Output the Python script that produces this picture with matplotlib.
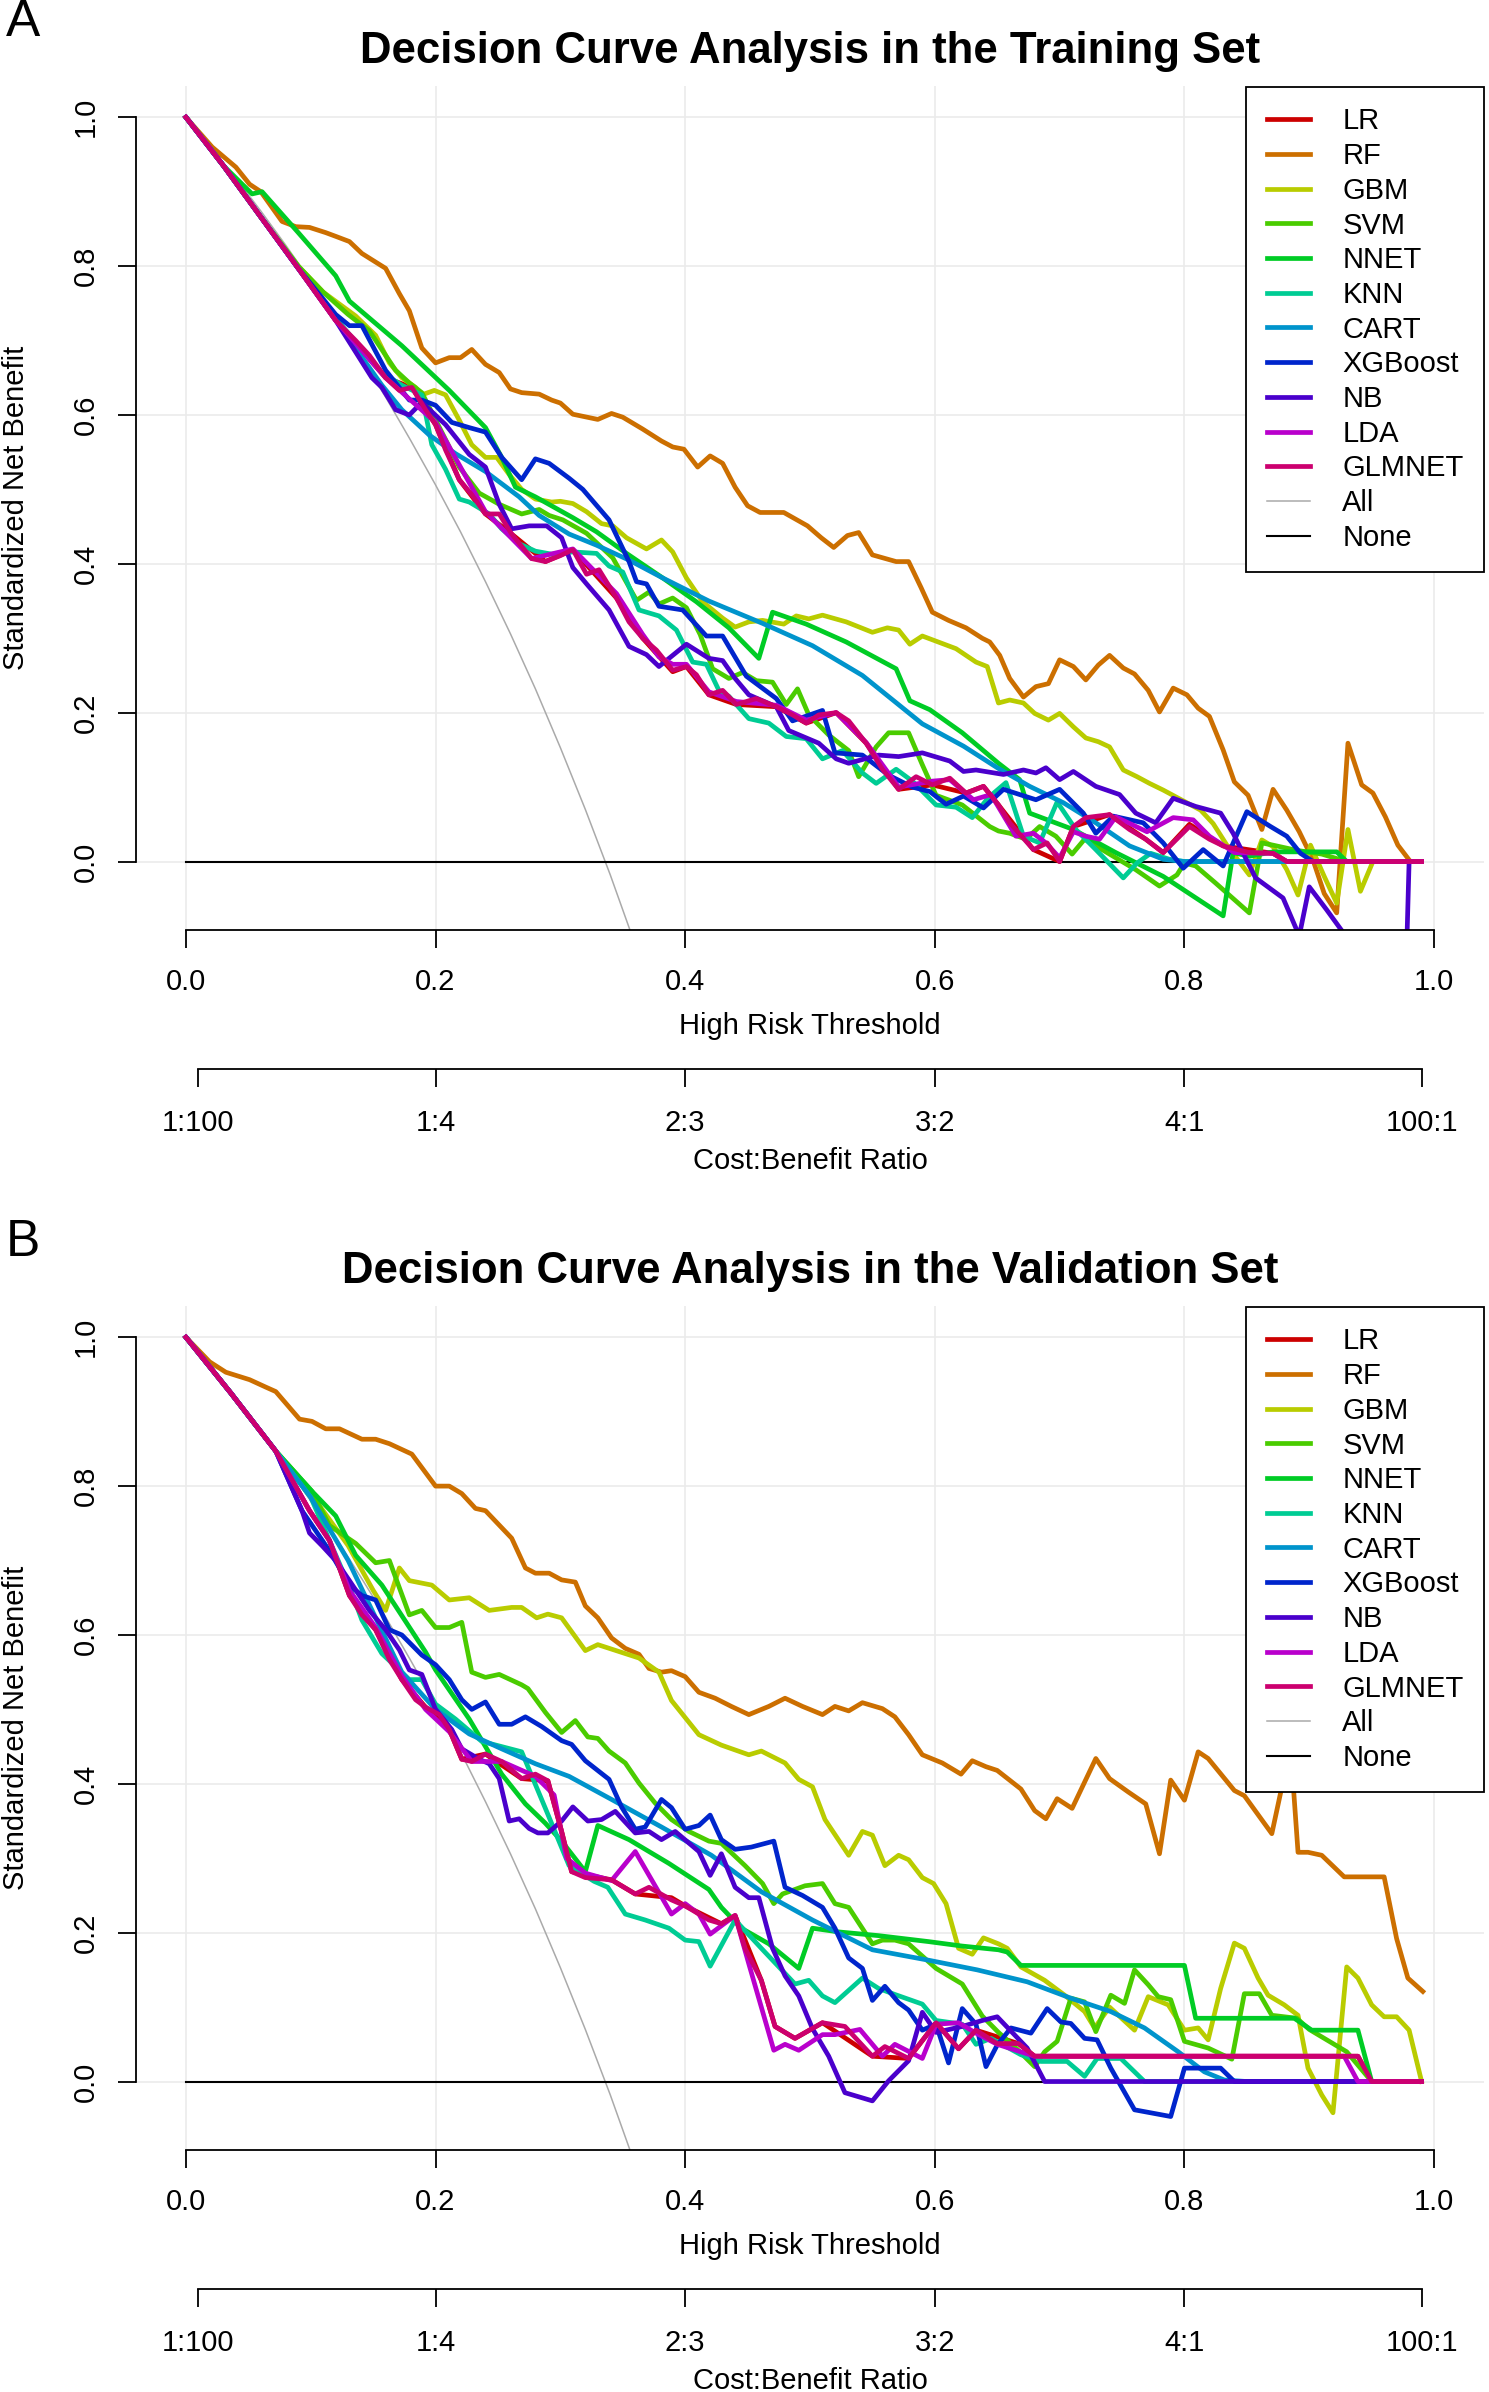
import matplotlib
matplotlib.use('Agg')
import matplotlib.pyplot as plt
import colorsys

plt.rcParams['font.family'] = ['Liberation Sans', 'DejaVu Sans']

models = ['LR', 'RF', 'GBM', 'SVM', 'NNET', 'KNN', 'CART', 'XGBoost', 'NB', 'LDA', 'GLMNET']

# treat-all / treat-none reference curves
all_x = [0.0, 0.02, 0.04, 0.06, 0.08, 0.10, 0.12, 0.14, 0.16, 0.18, 0.20, 0.22, 0.24, 0.26, 0.28,
         0.30, 0.32, 0.34, 0.36]
all_y = [1.0, 0.960, 0.918, 0.874, 0.828, 0.780, 0.731, 0.678, 0.624, 0.566, 0.506, 0.443, 0.376,
         0.306, 0.232, 0.153, 0.070, -0.018, -0.112]
none_x = [0.0, 0.99]
none_y = [0.0, 0.0]

# ---- training set, (threshold, standardized net benefit) ----
tr_lr = [(0, 1), (0.03, 0.935), (0.06, 0.866), (0.09, 0.797), (0.12, 0.727), (0.16, 0.65), (0.181, 0.637),
         (0.2, 0.587), (0.219, 0.513), (0.24, 0.467), (0.261, 0.44), (0.288, 0.403), (0.31, 0.419),
         (0.345, 0.354), (0.366, 0.3), (0.39, 0.255), (0.401, 0.262), (0.419, 0.224), (0.441, 0.211),
         (0.473, 0.208), (0.497, 0.186), (0.521, 0.2), (0.545, 0.159), (0.571, 0.097), (0.598, 0.103),
         (0.625, 0.092), (0.639, 0.101), (0.651, 0.076), (0.679, 0.016), (0.7, 0.0), (0.711, 0.047),
         (0.74, 0.063), (0.769, 0.03), (0.783, 0.012), (0.804, 0.05), (0.831, 0.021), (0.871, 0.011),
         (0.882, 0.0), (0.99, 0.0)]
tr_rf = [(0, 1), (0.021, 0.96), (0.04, 0.933), (0.051, 0.91), (0.06, 0.9), (0.077, 0.86), (0.088, 0.853),
         (0.099, 0.852), (0.112, 0.845), (0.12, 0.84), (0.131, 0.833), (0.141, 0.817), (0.16, 0.797),
         (0.171, 0.763), (0.179, 0.74), (0.189, 0.69), (0.2, 0.67), (0.211, 0.677), (0.22, 0.677),
         (0.229, 0.688), (0.24, 0.668), (0.251, 0.657), (0.26, 0.635), (0.269, 0.63), (0.283, 0.628),
         (0.293, 0.62), (0.3, 0.616), (0.31, 0.601), (0.33, 0.594), (0.341, 0.602), (0.35, 0.597),
         (0.366, 0.581), (0.381, 0.565), (0.39, 0.557), (0.399, 0.554), (0.41, 0.53), (0.42, 0.545),
         (0.43, 0.535), (0.44, 0.503), (0.45, 0.478), (0.46, 0.469), (0.479, 0.469), (0.498, 0.451),
         (0.509, 0.435), (0.519, 0.422), (0.53, 0.438), (0.539, 0.442), (0.55, 0.412), (0.569, 0.403),
         (0.579, 0.403), (0.589, 0.368), (0.598, 0.335), (0.611, 0.324), (0.625, 0.314), (0.638, 0.3),
         (0.644, 0.295), (0.652, 0.277), (0.66, 0.246), (0.671, 0.221), (0.681, 0.235), (0.691, 0.239),
         (0.7, 0.271), (0.711, 0.262), (0.721, 0.244), (0.731, 0.264), (0.74, 0.277), (0.751, 0.26),
         (0.76, 0.252), (0.771, 0.23), (0.78, 0.201), (0.791, 0.233), (0.802, 0.224), (0.811, 0.206),
         (0.82, 0.195), (0.831, 0.15), (0.84, 0.107), (0.851, 0.089), (0.862, 0.043), (0.871, 0.097),
         (0.882, 0.069), (0.892, 0.04), (0.903, 0.002), (0.912, -0.043), (0.922, -0.069), (0.931, 0.159),
         (0.942, 0.103), (0.951, 0.092), (0.961, 0.06), (0.971, 0.022), (0.981, 0.0), (0.99, 0.0)]
tr_gbm = [(0, 1), (0.03, 0.935), (0.06, 0.866), (0.09, 0.8), (0.11, 0.765), (0.136, 0.733), (0.152, 0.707),
          (0.163, 0.67), (0.173, 0.65), (0.184, 0.637), (0.189, 0.627), (0.199, 0.633), (0.208, 0.627),
          (0.219, 0.593), (0.229, 0.56), (0.24, 0.543), (0.249, 0.543), (0.259, 0.52), (0.269, 0.5),
          (0.28, 0.487), (0.293, 0.483), (0.3, 0.484), (0.31, 0.481), (0.321, 0.47), (0.333, 0.454),
          (0.342, 0.451), (0.353, 0.435), (0.369, 0.42), (0.381, 0.432), (0.39, 0.416), (0.401, 0.381),
          (0.414, 0.349), (0.43, 0.327), (0.44, 0.315), (0.451, 0.322), (0.462, 0.324), (0.479, 0.319),
          (0.489, 0.33), (0.499, 0.326), (0.51, 0.331), (0.529, 0.322), (0.55, 0.308), (0.562, 0.314),
          (0.571, 0.311), (0.58, 0.292), (0.59, 0.303), (0.617, 0.286), (0.633, 0.268), (0.642, 0.262),
          (0.651, 0.213), (0.66, 0.217), (0.671, 0.213), (0.68, 0.199), (0.691, 0.19), (0.7, 0.199),
          (0.711, 0.181), (0.721, 0.166), (0.731, 0.161), (0.74, 0.154), (0.751, 0.123), (0.762, 0.114),
          (0.772, 0.105), (0.783, 0.096), (0.793, 0.087), (0.803, 0.078), (0.813, 0.069), (0.823, 0.051),
          (0.834, 0.022), (0.842, 0.004), (0.852, -0.018), (0.862, 0.029), (0.871, 0.02), (0.882, -0.011),
          (0.891, -0.045), (0.901, 0.022), (0.912, -0.02), (0.922, -0.056), (0.931, 0.043), (0.941, -0.04),
          (0.951, 0.0), (0.99, 0.0)]
tr_svm = [(0, 1), (0.03, 0.935), (0.06, 0.866), (0.09, 0.8), (0.11, 0.765), (0.13, 0.735), (0.147, 0.713),
          (0.168, 0.66), (0.179, 0.643), (0.189, 0.63), (0.208, 0.567), (0.219, 0.53), (0.235, 0.495),
          (0.251, 0.48), (0.269, 0.467), (0.283, 0.473), (0.291, 0.465), (0.302, 0.459), (0.321, 0.441),
          (0.342, 0.408), (0.361, 0.351), (0.371, 0.362), (0.379, 0.346), (0.39, 0.354), (0.401, 0.341),
          (0.412, 0.305), (0.422, 0.259), (0.435, 0.246), (0.446, 0.254), (0.457, 0.243), (0.47, 0.241),
          (0.481, 0.211), (0.49, 0.232), (0.499, 0.197), (0.515, 0.17), (0.531, 0.149), (0.539, 0.114),
          (0.553, 0.154), (0.563, 0.173), (0.579, 0.173), (0.59, 0.13), (0.601, 0.089), (0.622, 0.076),
          (0.644, 0.047), (0.651, 0.041), (0.66, 0.038), (0.673, 0.03), (0.684, 0.047), (0.697, 0.034),
          (0.71, 0.01), (0.72, 0.03), (0.73, 0.02), (0.74, 0.01), (0.761, -0.011), (0.78, -0.033),
          (0.794, -0.018), (0.8, -0.002), (0.809, -0.006), (0.825, -0.029), (0.852, -0.069), (0.862, 0.025),
          (0.871, 0.022), (0.89, 0.015), (0.91, 0.01), (0.93, 0.0), (0.99, 0.0)]
tr_nnet = [(0, 1), (0.03, 0.935), (0.053, 0.897), (0.061, 0.9), (0.09, 0.845), (0.12, 0.787), (0.131, 0.753),
           (0.173, 0.693), (0.211, 0.633), (0.24, 0.583), (0.253, 0.543), (0.264, 0.503), (0.28, 0.49),
           (0.31, 0.462), (0.329, 0.443), (0.353, 0.414), (0.382, 0.381), (0.409, 0.349), (0.435, 0.314),
           (0.459, 0.273), (0.47, 0.335), (0.497, 0.319), (0.529, 0.295), (0.569, 0.259), (0.58, 0.216),
           (0.596, 0.204), (0.622, 0.173), (0.651, 0.132), (0.668, 0.11), (0.676, 0.065), (0.711, 0.043),
           (0.745, 0.012), (0.783, -0.02), (0.831, -0.073), (0.839, 0.012), (0.852, 0.007), (0.871, 0.013),
           (0.922, 0.013), (0.93, 0.0), (0.99, 0.0)]
tr_knn = [(0, 1), (0.03, 0.935), (0.06, 0.866), (0.09, 0.797), (0.12, 0.73), (0.14, 0.69), (0.157, 0.657),
          (0.173, 0.64), (0.189, 0.627), (0.197, 0.56), (0.208, 0.527), (0.219, 0.487), (0.227, 0.483),
          (0.243, 0.467), (0.253, 0.447), (0.267, 0.427), (0.28, 0.417), (0.293, 0.413), (0.31, 0.416),
          (0.329, 0.414), (0.339, 0.397), (0.35, 0.389), (0.363, 0.338), (0.379, 0.33), (0.393, 0.311),
          (0.406, 0.268), (0.417, 0.265), (0.427, 0.23), (0.435, 0.222), (0.451, 0.192), (0.467, 0.186),
          (0.481, 0.168), (0.497, 0.165), (0.51, 0.138), (0.526, 0.149), (0.542, 0.119), (0.553, 0.105),
          (0.569, 0.124), (0.582, 0.108), (0.601, 0.076), (0.617, 0.073), (0.63, 0.059), (0.643, 0.086),
          (0.657, 0.106), (0.671, 0.034), (0.684, 0.025), (0.698, 0.08), (0.713, 0.043), (0.729, 0.016),
          (0.751, -0.022), (0.762, -0.002), (0.773, 0.011), (0.788, 0.003), (0.8, 0.0), (0.99, 0.0)]
tr_cart = [(0, 1), (0.03, 0.935), (0.06, 0.866), (0.09, 0.797), (0.12, 0.728), (0.14, 0.68), (0.157, 0.64),
           (0.173, 0.607), (0.195, 0.573), (0.216, 0.548), (0.24, 0.524), (0.267, 0.49), (0.283, 0.465),
           (0.307, 0.44), (0.329, 0.425), (0.355, 0.405), (0.382, 0.381), (0.419, 0.35), (0.462, 0.32),
           (0.502, 0.29), (0.542, 0.25), (0.59, 0.185), (0.623, 0.155), (0.651, 0.125), (0.676, 0.101),
           (0.703, 0.079), (0.729, 0.052), (0.756, 0.021), (0.783, 0.003), (0.8, 0.0), (0.99, 0.0)]
tr_xgb = [(0, 1), (0.03, 0.935), (0.06, 0.866), (0.09, 0.797), (0.12, 0.735), (0.131, 0.72), (0.141, 0.72),
          (0.16, 0.66), (0.179, 0.62), (0.189, 0.62), (0.2, 0.613), (0.213, 0.59), (0.227, 0.583),
          (0.24, 0.577), (0.253, 0.543), (0.269, 0.513), (0.28, 0.541), (0.291, 0.535), (0.307, 0.515),
          (0.318, 0.5), (0.339, 0.459), (0.355, 0.403), (0.361, 0.376), (0.369, 0.373), (0.379, 0.343),
          (0.398, 0.338), (0.417, 0.303), (0.43, 0.303), (0.449, 0.249), (0.473, 0.219), (0.486, 0.189),
          (0.51, 0.203), (0.52, 0.146), (0.542, 0.143), (0.563, 0.116), (0.582, 0.1), (0.596, 0.094),
          (0.609, 0.077), (0.623, 0.088), (0.639, 0.072), (0.655, 0.097), (0.681, 0.083), (0.7, 0.097),
          (0.719, 0.065), (0.729, 0.038), (0.743, 0.061), (0.767, 0.052), (0.783, 0.025), (0.799, -0.009),
          (0.815, 0.016), (0.831, -0.006), (0.85, 0.067), (0.869, 0.047), (0.882, 0.034), (0.893, 0.011),
          (0.903, 0.0), (0.99, 0.0)]
tr_nb = [(0, 1), (0.03, 0.935), (0.06, 0.866), (0.09, 0.797), (0.12, 0.727), (0.149, 0.65), (0.157, 0.637),
         (0.168, 0.607), (0.179, 0.6), (0.189, 0.617), (0.208, 0.587), (0.227, 0.547), (0.24, 0.53),
         (0.251, 0.48), (0.261, 0.447), (0.275, 0.451), (0.289, 0.451), (0.301, 0.435), (0.31, 0.395),
         (0.321, 0.373), (0.339, 0.338), (0.355, 0.289), (0.369, 0.278), (0.379, 0.262), (0.401, 0.292),
         (0.419, 0.273), (0.43, 0.27), (0.44, 0.246), (0.451, 0.224), (0.473, 0.208), (0.483, 0.176),
         (0.507, 0.159), (0.521, 0.138), (0.531, 0.132), (0.555, 0.143), (0.571, 0.141), (0.59, 0.146),
         (0.612, 0.135), (0.623, 0.121), (0.633, 0.123), (0.655, 0.117), (0.671, 0.123), (0.681, 0.119),
         (0.689, 0.126), (0.7, 0.11), (0.711, 0.121), (0.729, 0.101), (0.748, 0.09), (0.761, 0.065),
         (0.777, 0.052), (0.791, 0.085), (0.809, 0.074), (0.829, 0.065), (0.839, 0.038), (0.857, -0.022),
         (0.879, -0.049), (0.892, -0.1), (0.9, -0.034), (0.914, -0.065), (0.927, -0.095), (0.94, -0.2),
         (0.97, -0.6), (0.98, 0.0), (0.99, 0.0)]
tr_lda = [(0, 1), (0.03, 0.935), (0.06, 0.866), (0.09, 0.797), (0.12, 0.727), (0.16, 0.65), (0.2, 0.59),
          (0.24, 0.47), (0.277, 0.407), (0.31, 0.42), (0.345, 0.36), (0.366, 0.305), (0.379, 0.275),
          (0.39, 0.265), (0.401, 0.265), (0.419, 0.228), (0.441, 0.215), (0.473, 0.21), (0.497, 0.19),
          (0.521, 0.2), (0.545, 0.16), (0.571, 0.1), (0.598, 0.108), (0.612, 0.11), (0.631, 0.083),
          (0.645, 0.09), (0.665, 0.034), (0.679, 0.038), (0.689, 0.025), (0.7, 0.005), (0.711, 0.04),
          (0.721, 0.034), (0.732, 0.03), (0.745, 0.06), (0.77, 0.04), (0.791, 0.059), (0.807, 0.056),
          (0.82, 0.034), (0.84, 0.012), (0.871, 0.011), (0.882, 0.0), (0.99, 0.0)]
tr_glm = [(0, 1), (0.03, 0.935), (0.06, 0.866), (0.09, 0.797), (0.12, 0.727), (0.136, 0.7), (0.147, 0.68),
          (0.16, 0.65), (0.171, 0.633), (0.181, 0.637), (0.192, 0.607), (0.2, 0.587), (0.208, 0.553),
          (0.219, 0.513), (0.229, 0.493), (0.24, 0.467), (0.251, 0.467), (0.261, 0.44), (0.277, 0.407),
          (0.288, 0.403), (0.3, 0.411), (0.31, 0.419), (0.321, 0.386), (0.331, 0.392), (0.345, 0.354),
          (0.355, 0.322), (0.366, 0.3), (0.377, 0.284), (0.39, 0.257), (0.401, 0.262), (0.409, 0.251),
          (0.419, 0.224), (0.43, 0.23), (0.441, 0.211), (0.457, 0.219), (0.473, 0.208), (0.486, 0.197),
          (0.497, 0.186), (0.507, 0.197), (0.521, 0.2), (0.531, 0.189), (0.545, 0.159), (0.558, 0.124),
          (0.571, 0.097), (0.585, 0.114), (0.598, 0.103), (0.612, 0.112), (0.625, 0.092), (0.639, 0.101),
          (0.651, 0.076), (0.66, 0.052), (0.679, 0.016), (0.69, 0.025), (0.7, 0.0), (0.711, 0.047),
          (0.721, 0.059), (0.74, 0.063), (0.756, 0.043), (0.769, 0.03), (0.783, 0.012), (0.804, 0.047),
          (0.82, 0.03), (0.831, 0.021), (0.852, 0.012), (0.871, 0.011), (0.882, 0.0), (0.99, 0.0)]

# ---- validation set ----
va_lr = [(0, 1), (0.036, 0.925), (0.072, 0.847), (0.099, 0.767), (0.115, 0.727), (0.131, 0.653),
         (0.152, 0.607), (0.173, 0.54), (0.192, 0.503), (0.211, 0.473), (0.221, 0.433), (0.24, 0.44),
         (0.269, 0.407), (0.29, 0.404), (0.301, 0.336), (0.309, 0.282), (0.341, 0.271), (0.36, 0.252),
         (0.389, 0.247), (0.4, 0.236), (0.429, 0.212), (0.44, 0.223), (0.461, 0.136), (0.472, 0.074),
         (0.488, 0.058), (0.51, 0.079), (0.55, 0.034), (0.579, 0.031), (0.601, 0.079), (0.619, 0.044),
         (0.633, 0.069), (0.667, 0.051), (0.68, 0.034), (0.939, 0.034), (0.95, 0.0), (0.99, 0.0)]
va_rf = [(0, 1), (0.019, 0.967), (0.032, 0.953), (0.051, 0.943), (0.064, 0.933), (0.072, 0.927),
         (0.091, 0.89), (0.101, 0.887), (0.112, 0.877), (0.123, 0.877), (0.141, 0.863), (0.152, 0.863),
         (0.163, 0.857), (0.181, 0.843), (0.2, 0.8), (0.211, 0.8), (0.221, 0.79), (0.232, 0.77),
         (0.24, 0.767), (0.261, 0.73), (0.272, 0.69), (0.28, 0.683), (0.291, 0.683), (0.301, 0.674),
         (0.312, 0.671), (0.32, 0.639), (0.33, 0.623), (0.341, 0.596), (0.352, 0.582), (0.363, 0.574),
         (0.371, 0.555), (0.381, 0.55), (0.389, 0.552), (0.4, 0.544), (0.411, 0.523), (0.424, 0.515),
         (0.437, 0.504), (0.451, 0.493), (0.467, 0.504), (0.48, 0.515), (0.494, 0.504), (0.51, 0.493),
         (0.52, 0.504), (0.531, 0.498), (0.542, 0.509), (0.558, 0.501), (0.568, 0.49), (0.579, 0.466),
         (0.59, 0.439), (0.606, 0.428), (0.621, 0.413), (0.63, 0.431), (0.641, 0.423), (0.65, 0.418),
         (0.669, 0.393), (0.68, 0.364), (0.689, 0.353), (0.698, 0.38), (0.71, 0.367), (0.729, 0.434),
         (0.74, 0.407), (0.755, 0.389), (0.769, 0.373), (0.78, 0.306), (0.789, 0.405), (0.8, 0.378),
         (0.811, 0.443), (0.819, 0.434), (0.84, 0.391), (0.848, 0.384), (0.87, 0.333), (0.885, 0.45),
         (0.891, 0.308), (0.899, 0.308), (0.91, 0.304), (0.928, 0.275), (0.96, 0.275), (0.97, 0.192),
         (0.979, 0.139), (0.991, 0.121)]
va_gbm = [(0, 1), (0.036, 0.925), (0.072, 0.847), (0.1, 0.79), (0.13, 0.72), (0.15, 0.66), (0.16, 0.633),
          (0.171, 0.69), (0.179, 0.673), (0.197, 0.667), (0.211, 0.647), (0.227, 0.65), (0.243, 0.633),
          (0.261, 0.637), (0.269, 0.637), (0.281, 0.623), (0.29, 0.628), (0.301, 0.623), (0.32, 0.579),
          (0.33, 0.587), (0.363, 0.569), (0.379, 0.55), (0.389, 0.512), (0.411, 0.466), (0.429, 0.452),
          (0.451, 0.439), (0.461, 0.444), (0.48, 0.428), (0.491, 0.406), (0.502, 0.396), (0.512, 0.352),
          (0.531, 0.304), (0.542, 0.336), (0.55, 0.331), (0.56, 0.29), (0.571, 0.304), (0.579, 0.298),
          (0.59, 0.274), (0.599, 0.266), (0.609, 0.239), (0.619, 0.179), (0.63, 0.171), (0.639, 0.193),
          (0.651, 0.185), (0.658, 0.179), (0.669, 0.154), (0.688, 0.136), (0.704, 0.116), (0.72, 0.094),
          (0.728, 0.072), (0.74, 0.1), (0.76, 0.069), (0.771, 0.114), (0.787, 0.103), (0.8, 0.069),
          (0.811, 0.072), (0.819, 0.056), (0.829, 0.125), (0.84, 0.186), (0.848, 0.179), (0.859, 0.139),
          (0.867, 0.116), (0.88, 0.103), (0.891, 0.089), (0.899, 0.018), (0.91, -0.018), (0.919, -0.042),
          (0.93, 0.154), (0.939, 0.139), (0.95, 0.103), (0.96, 0.087), (0.97, 0.087), (0.98, 0.069),
          (0.99, 0.0)]
va_svm = [(0, 1), (0.036, 0.925), (0.072, 0.847), (0.101, 0.793), (0.115, 0.747), (0.136, 0.723),
          (0.152, 0.697), (0.163, 0.7), (0.179, 0.627), (0.189, 0.633), (0.2, 0.61), (0.211, 0.61),
          (0.221, 0.617), (0.229, 0.55), (0.24, 0.543), (0.251, 0.547), (0.269, 0.533), (0.274, 0.528),
          (0.288, 0.496), (0.301, 0.469), (0.312, 0.485), (0.322, 0.463), (0.33, 0.461), (0.339, 0.444),
          (0.352, 0.428), (0.363, 0.401), (0.376, 0.374), (0.389, 0.352), (0.403, 0.336), (0.419, 0.323),
          (0.429, 0.32), (0.448, 0.29), (0.462, 0.266), (0.471, 0.239), (0.478, 0.252), (0.496, 0.263),
          (0.51, 0.266), (0.52, 0.239), (0.531, 0.234), (0.55, 0.185), (0.558, 0.19), (0.568, 0.19),
          (0.579, 0.185), (0.601, 0.152), (0.622, 0.131), (0.638, 0.088), (0.651, 0.066), (0.665, 0.045),
          (0.68, 0.02), (0.688, 0.04), (0.698, 0.054), (0.709, 0.112), (0.72, 0.107), (0.729, 0.067),
          (0.741, 0.116), (0.752, 0.105), (0.76, 0.15), (0.771, 0.13), (0.779, 0.114), (0.789, 0.11),
          (0.8, 0.054), (0.819, 0.045), (0.838, 0.03), (0.848, 0.118), (0.86, 0.118), (0.87, 0.089),
          (0.89, 0.085), (0.9, 0.07), (0.93, 0.04), (0.95, 0.0), (0.99, 0.0)]
va_nnet = [(0, 1), (0.036, 0.925), (0.072, 0.847), (0.101, 0.793), (0.12, 0.76), (0.136, 0.707),
           (0.157, 0.667), (0.192, 0.577), (0.2, 0.553), (0.227, 0.487), (0.253, 0.413), (0.272, 0.373),
           (0.288, 0.347), (0.301, 0.323), (0.32, 0.282), (0.33, 0.344), (0.355, 0.325), (0.387, 0.293),
           (0.419, 0.258), (0.429, 0.234), (0.445, 0.206), (0.467, 0.185), (0.491, 0.152), (0.502, 0.206),
           (0.523, 0.201), (0.555, 0.196), (0.595, 0.188), (0.622, 0.182), (0.651, 0.177), (0.658, 0.174),
           (0.669, 0.156), (0.8, 0.156), (0.809, 0.085), (0.888, 0.085), (0.902, 0.069), (0.939, 0.069),
           (0.95, 0.0), (0.99, 0.0)]
va_knn = [(0, 1), (0.036, 0.925), (0.072, 0.847), (0.1, 0.785), (0.131, 0.665), (0.141, 0.62),
          (0.157, 0.575), (0.179, 0.54), (0.189, 0.54), (0.2, 0.507), (0.216, 0.487), (0.237, 0.457),
          (0.269, 0.443), (0.288, 0.367), (0.307, 0.29), (0.327, 0.269), (0.338, 0.261), (0.352, 0.225),
          (0.368, 0.217), (0.387, 0.206), (0.4, 0.19), (0.411, 0.188), (0.42, 0.155), (0.44, 0.217),
          (0.461, 0.179), (0.488, 0.131), (0.499, 0.136), (0.51, 0.115), (0.52, 0.106), (0.542, 0.139),
          (0.555, 0.125), (0.568, 0.117), (0.59, 0.104), (0.601, 0.082), (0.622, 0.077), (0.633, 0.05),
          (0.645, 0.058), (0.669, 0.036), (0.685, 0.027), (0.706, 0.027), (0.72, 0.007), (0.73, 0.031),
          (0.749, 0.031), (0.768, 0.0), (0.99, 0.0)]
va_cart = [(0, 1), (0.036, 0.925), (0.072, 0.847), (0.1, 0.785), (0.13, 0.7), (0.15, 0.63), (0.173, 0.55),
           (0.2, 0.5), (0.227, 0.467), (0.253, 0.447), (0.28, 0.427), (0.307, 0.41), (0.341, 0.379),
           (0.381, 0.342), (0.421, 0.304), (0.461, 0.255), (0.502, 0.217), (0.55, 0.177), (0.595, 0.163),
           (0.634, 0.15), (0.674, 0.134), (0.709, 0.112), (0.741, 0.094), (0.768, 0.072), (0.795, 0.04),
           (0.816, 0.013), (0.832, 0.002), (0.85, 0.0), (0.99, 0.0)]
va_xgb = [(0, 1), (0.036, 0.925), (0.072, 0.847), (0.093, 0.767), (0.115, 0.713), (0.131, 0.667),
          (0.141, 0.653), (0.152, 0.647), (0.163, 0.607), (0.173, 0.6), (0.189, 0.573), (0.2, 0.56),
          (0.211, 0.54), (0.221, 0.513), (0.229, 0.5), (0.24, 0.51), (0.251, 0.48), (0.261, 0.48),
          (0.272, 0.49), (0.285, 0.477), (0.301, 0.458), (0.309, 0.453), (0.32, 0.431), (0.339, 0.406),
          (0.349, 0.369), (0.36, 0.339), (0.368, 0.342), (0.381, 0.379), (0.389, 0.368), (0.4, 0.339),
          (0.411, 0.344), (0.42, 0.358), (0.429, 0.325), (0.44, 0.312), (0.453, 0.315), (0.471, 0.323),
          (0.48, 0.261), (0.494, 0.25), (0.51, 0.234), (0.52, 0.206), (0.531, 0.166), (0.542, 0.152),
          (0.55, 0.109), (0.56, 0.128), (0.571, 0.106), (0.579, 0.096), (0.59, 0.069), (0.601, 0.077),
          (0.611, 0.025), (0.622, 0.098), (0.633, 0.077), (0.641, 0.02), (0.65, 0.049), (0.661, 0.072),
          (0.677, 0.065), (0.69, 0.098), (0.701, 0.08), (0.709, 0.078), (0.72, 0.058), (0.73, 0.056),
          (0.741, 0.018), (0.76, -0.038), (0.789, -0.047), (0.8, 0.018), (0.829, 0.018), (0.84, 0.0),
          (0.99, 0.0)]
va_nb = [(0, 1), (0.036, 0.925), (0.072, 0.847), (0.093, 0.767), (0.099, 0.737), (0.109, 0.72),
         (0.12, 0.7), (0.131, 0.673), (0.147, 0.633), (0.16, 0.607), (0.171, 0.58), (0.179, 0.553),
         (0.189, 0.547), (0.2, 0.5), (0.213, 0.473), (0.221, 0.447), (0.235, 0.433), (0.243, 0.427),
         (0.251, 0.407), (0.259, 0.35), (0.267, 0.353), (0.275, 0.34), (0.282, 0.334), (0.29, 0.334),
         (0.301, 0.35), (0.31, 0.369), (0.322, 0.35), (0.333, 0.352), (0.344, 0.363), (0.36, 0.334),
         (0.371, 0.336), (0.381, 0.325), (0.392, 0.336), (0.411, 0.309), (0.42, 0.277), (0.429, 0.306),
         (0.44, 0.261), (0.451, 0.247), (0.459, 0.247), (0.47, 0.179), (0.48, 0.142), (0.491, 0.115),
         (0.502, 0.071), (0.515, 0.034), (0.528, -0.015), (0.55, -0.026), (0.563, 0.001), (0.579, 0.028),
         (0.59, 0.093), (0.601, 0.066), (0.622, 0.074), (0.638, 0.082), (0.65, 0.087), (0.674, 0.045),
         (0.688, 0.0), (0.99, 0.0)]
va_lda = [(0, 1), (0.036, 0.925), (0.072, 0.847), (0.099, 0.767), (0.115, 0.727), (0.131, 0.66),
          (0.152, 0.61), (0.173, 0.545), (0.192, 0.5), (0.211, 0.47), (0.229, 0.43), (0.253, 0.43),
          (0.28, 0.41), (0.295, 0.385), (0.305, 0.3), (0.32, 0.28), (0.341, 0.27), (0.36, 0.309),
          (0.389, 0.225), (0.4, 0.239), (0.411, 0.225), (0.42, 0.198), (0.44, 0.223), (0.451, 0.158),
          (0.471, 0.042), (0.48, 0.05), (0.491, 0.042), (0.51, 0.063), (0.52, 0.063), (0.54, 0.07),
          (0.558, 0.034), (0.568, 0.05), (0.59, 0.031), (0.601, 0.077), (0.619, 0.079), (0.633, 0.065),
          (0.65, 0.05), (0.68, 0.034), (0.928, 0.034), (0.939, 0.0), (0.99, 0.0)]
va_glm = [(0, 1), (0.036, 0.925), (0.072, 0.847), (0.099, 0.767), (0.115, 0.727), (0.131, 0.653),
          (0.141, 0.627), (0.152, 0.607), (0.163, 0.567), (0.173, 0.54), (0.184, 0.513), (0.192, 0.503),
          (0.203, 0.493), (0.211, 0.473), (0.221, 0.433), (0.229, 0.43), (0.24, 0.44), (0.253, 0.43),
          (0.269, 0.407), (0.28, 0.413), (0.29, 0.404), (0.301, 0.336), (0.309, 0.282), (0.32, 0.274),
          (0.341, 0.271), (0.36, 0.252), (0.371, 0.261), (0.389, 0.244), (0.4, 0.236), (0.419, 0.217),
          (0.429, 0.212), (0.44, 0.223), (0.448, 0.179), (0.461, 0.136), (0.472, 0.074), (0.488, 0.058),
          (0.51, 0.079), (0.528, 0.074), (0.55, 0.034), (0.56, 0.047), (0.579, 0.031), (0.601, 0.079),
          (0.619, 0.044), (0.633, 0.069), (0.65, 0.051), (0.667, 0.051), (0.68, 0.034), (0.939, 0.034),
          (0.95, 0.0), (0.99, 0.0)]

train = [tr_lr, tr_rf, tr_gbm, tr_svm, tr_nnet, tr_knn, tr_cart, tr_xgb, tr_nb, tr_lda, tr_glm]
valid = [va_lr, va_rf, va_gbm, va_svm, va_nnet, va_knn, va_cart, va_xgb, va_nb, va_lda, va_glm]

x_ticks = [0.0, 0.2, 0.4, 0.6, 0.8, 1.0]
y_ticks = [0.0, 0.2, 0.4, 0.6, 0.8, 1.0]
cb_ticks = [0.0099, 0.2, 0.4, 0.6, 0.8, 0.99]
cb_labels = ['1:100', '1:4', '2:3', '3:2', '4:1', '100:1']

# R rainbow(11, v = 0.8)
colors = [colorsys.hsv_to_rgb(i / 11, 1, 0.8) for i in range(11)]

W, H = 1489, 2392
fig = plt.figure(figsize=(W / 100, H / 100), dpi=100)
FS = 21


def panel(curves, title, letter, dy):
    left, right, top, bottom = 136, 1484, 86 + dy, 930 + dy
    ax = fig.add_axes([left / W, 1 - bottom / H, (right - left) / W, (bottom - top) / H])
    ax.set_xlim(-0.04, 1.04)
    ax.set_ylim(-0.092, 1.042)
    ax.grid(True, color='#EBEBEB', lw=1.2)
    ax.set_axisbelow(True)
    for s in ['top', 'right']:
        ax.spines[s].set_visible(False)
    for s in ['left', 'bottom']:
        ax.spines[s].set_linewidth(1.3)
        ax.spines[s].set_bounds(0, 1)
    ax.set_xticks(x_ticks)
    ax.set_xticklabels(['%.1f' % v for v in x_ticks], fontsize=FS)
    ax.set_yticks(y_ticks)
    ax.set_yticklabels(['%.1f' % v for v in y_ticks], fontsize=FS, rotation=90, va='center')
    ax.tick_params(axis='both', direction='out', length=13, width=1.3)
    ax.tick_params(axis='x', pad=14)
    ax.tick_params(axis='y', pad=13)

    h_all, = ax.plot(all_x, all_y, color='#AAAAAA', lw=1.1)
    h_none, = ax.plot(none_x, none_y, color='black', lw=1.5)
    handles = []
    for pts, c, name in zip(curves, colors, models):
        xs = [p[0] for p in pts]
        ys = [p[1] for p in pts]
        h, = ax.plot(xs, ys, color=c, lw=3.4, solid_joinstyle='round', label=name)
        handles.append(h)
    handles += [h_all, h_none]
    leg = fig.legend(handles, models + ['All', 'None'], loc='upper right',
                     bbox_to_anchor=(1484 / W, 1 - (87 + dy) / H), fontsize=FS, borderaxespad=0,
                     frameon=True, fancybox=False, framealpha=1, edgecolor='black',
                     handlelength=1.5, handletextpad=1.1, labelspacing=0.23, borderpad=0.7)
    leg.get_frame().set_linewidth(1.3)

    # cost:benefit axis
    cb = fig.add_axes([left / W, 1 - (1069 + dy) / H, (right - left) / W, 0.0001])
    cb.set_xlim(-0.04, 1.04)
    cb.patch.set_visible(False)
    for s in ['top', 'right', 'left']:
        cb.spines[s].set_visible(False)
    cb.spines['bottom'].set_linewidth(1.3)
    cb.spines['bottom'].set_bounds(cb_ticks[0], cb_ticks[-1])
    cb.set_yticks([])
    cb.set_xticks(cb_ticks)
    cb.set_xticklabels(cb_labels, fontsize=FS)
    cb.tick_params(axis='x', direction='out', length=13, width=1.3, pad=16)

    cx = (left + right) / 2 / W
    fig.text(cx, 1 - (52 + dy) / H, title, fontsize=31.5, fontweight='bold', ha='center', va='center')
    fig.text(cx, 1 - (1026 + dy) / H, 'High Risk Threshold', fontsize=FS, ha='center', va='center')
    fig.text(cx, 1 - (1161 + dy) / H, 'Cost:Benefit Ratio', fontsize=FS, ha='center', va='center')
    fig.text(16 / W, 1 - (508 + dy) / H, 'Standardized Net Benefit', fontsize=FS, rotation=90,
             ha='center', va='center')
    fig.text(23 / W, 1 - (23 + dy) / H, letter, fontsize=37, ha='center', va='center')


panel(train, 'Decision Curve Analysis in the Training Set', 'A', 0)
panel(valid, 'Decision Curve Analysis in the Validation Set', 'B', 1220)

fig.savefig('out.png', dpi=100)
